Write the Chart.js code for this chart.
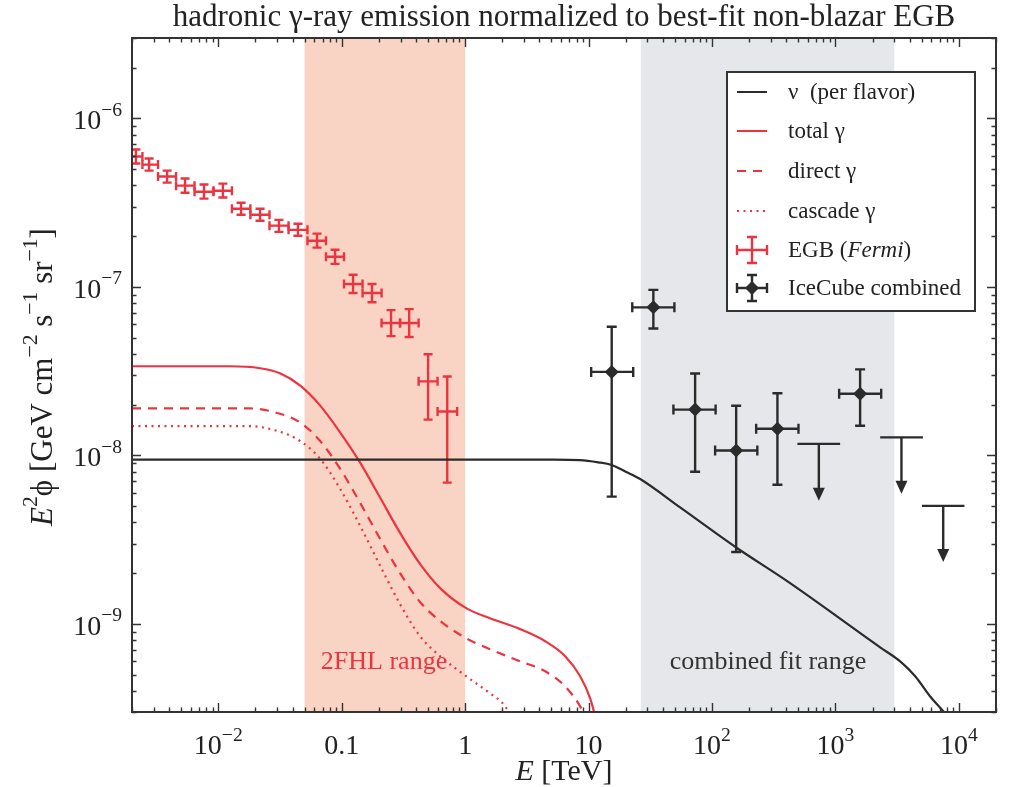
<!DOCTYPE html>
<html>
<head>
<meta charset="utf-8">
<script src="https://cdn.jsdelivr.net/npm/chart.js@4"></script>
<style>
  html, body { margin: 0; background: #fff; }
</style>
</head>
<body>
<canvas id="grafica" width="1011" height="787"></canvas>
<script>
// energia en TeV, flujo E^2 phi en GeV cm^-2 s^-1 sr^-1

const rangoX = [2e-3, 2e4];
const rangoY = [3e-10, 3e-6];

// bandas sombreadas
const rango2FHL = [0.05, 1];
const rangoAjuste = [26.5, 3000];

// neutrinos (por sabor)
const nuE = [2e-3, 0.1, 1, 5, 8.5, 12, 15.4, 20, 26.2, 55.2, 157, 404, 2305, 3350, 4430, 5860, 7750, 9330];
const nuV = [9.45e-9, 9.45e-9, 9.45e-9, 9.44e-9, 9.38e-9, 9.1e-9, 8.77e-9, 8.0e-9, 7.24e-9, 4.91e-9, 2.84e-9, 1.8e-9, 7.26e-10, 5.99e-10, 4.89e-10, 3.71e-10, 2.94e-10, 2.46e-10];

// gamma total
const totalE = [2e-3, 0.01245, 0.0218, 0.0316, 0.0459, 0.0667, 0.097, 0.141, 0.205, 0.297, 0.431, 0.627, 1.02, 1.59, 2.79, 4.45, 6.46, 8.55, 10.3, 11.9];
const totalV = [3.38e-8, 3.38e-8, 3.29e-8, 3.07e-8, 2.6e-8, 1.98e-8, 1.37e-8, 9.06e-9, 5.61e-9, 3.47e-9, 2.27e-9, 1.63e-9, 1.24e-9, 1.08e-9, 9.31e-10, 7.89e-10, 6.43e-10, 4.89e-10, 3.61e-10, 2.46e-10];

// gamma directo
const directoE = [2e-3, 0.0181, 0.0288, 0.0459, 0.0667, 0.097, 0.141, 0.205, 0.297, 0.431, 0.627, 1.02, 1.59, 2.79, 4.45, 6.46, 8.55, 10.3];
const directoV = [1.9e-8, 1.9e-8, 1.8e-8, 1.57e-8, 1.22e-8, 8.34e-9, 5.23e-9, 3.19e-9, 2.0e-9, 1.35e-9, 1.04e-9, 8.22e-10, 7.07e-10, 6.0e-10, 5.23e-10, 4.26e-10, 3.24e-10, 2.46e-10];

// gamma de cascada
const cascadaE = [2e-3, 0.0181, 0.0288, 0.0459, 0.0667, 0.097, 0.141, 0.205, 0.297, 0.431, 0.627, 1.02, 1.59, 2.11, 2.54];
const cascadaV = [1.49e-8, 1.49e-8, 1.41e-8, 1.22e-8, 9.57e-9, 6.34e-9, 3.82e-9, 2.21e-9, 1.31e-9, 8.45e-10, 6.43e-10, 4.89e-10, 3.87e-10, 3.24e-10, 2.46e-10];

// EGB de Fermi
const egbE = [2.15e-3, 2.75e-3, 3.85e-3, 5.38e-3, 7.66e-3, 0.0109, 0.0153, 0.0218, 0.031, 0.0442, 0.0631, 0.0883, 0.1236, 0.176, 0.251, 0.352, 0.501, 0.716];
const egbEmin = [1.82e-3, 2.43e-3, 3.25e-3, 4.55e-3, 6.42e-3, 9.15e-3, 0.0129, 0.0182, 0.026, 0.0371, 0.0528, 0.0746, 0.1044, 0.1476, 0.2103, 0.297, 0.42, 0.598];
const egbEmax = [2.43e-3, 3.25e-3, 4.55e-3, 6.42e-3, 9.15e-3, 0.0129, 0.0182, 0.026, 0.0371, 0.0528, 0.0746, 0.1044, 0.1476, 0.2103, 0.297, 0.42, 0.598, 0.861];
const egbV = [5.94e-7, 5.32e-7, 4.52e-7, 3.99e-7, 3.67e-7, 3.72e-7, 2.91e-7, 2.68e-7, 2.31e-7, 2.18e-7, 1.88e-7, 1.51e-7, 1.04e-7, 9.2e-8, 6.1e-8, 6.1e-8, 2.75e-8, 1.82e-8];
const egbVmin = [5.4e-7, 4.9e-7, 4.16e-7, 3.62e-7, 3.34e-7, 3.39e-7, 2.68e-7, 2.47e-7, 2.12e-7, 2.01e-7, 1.71e-7, 1.37e-7, 9.2e-8, 8.1e-8, 5.1e-8, 5.04e-8, 1.63e-8, 6.89e-9];
const egbVmax = [6.54e-7, 5.78e-7, 4.9e-7, 4.4e-7, 4.05e-7, 4.1e-7, 3.16e-7, 2.91e-7, 2.5e-7, 2.37e-7, 2.07e-7, 1.66e-7, 1.18e-7, 1.04e-7, 7.28e-8, 7.38e-8, 3.98e-8, 2.94e-8];

// IceCube combinado
const icE = [15.4, 33.5, 73.0, 157, 339, 1585];
const icEmin = [10.5, 22.6, 48.7, 106, 228, 1072];
const icEmax = [23.0, 49.6, 107, 233, 502, 2349];
const icV = [3.13e-8, 7.56e-8, 1.87e-8, 1.07e-8, 1.44e-8, 2.32e-8];
const icVmin = [5.69e-9, 5.66e-8, 8.0e-9, 2.67e-9, 6.7e-9, 1.5e-8];
const icVmax = [5.8e-8, 9.6e-8, 3.06e-8, 1.97e-8, 2.34e-8, 3.24e-8];

// limites superiores IceCube
const limE = [734, 3428, 7470];
const limEmin = [492, 2305, 5020];
const limEmax = [1092, 5115, 11100];
const limV = [1.17e-8, 1.28e-8, 5.02e-9];
const limPunta = [5.38e-9, 5.93e-9, 2.33e-9];

// marcas de los ejes
const xMarcas = [0.01, 0.1, 1, 10, 100, 1000, 10000];
const xEtiquetas = [["10", "−2"], ["0.1", ""], ["1", ""], ["10", ""], ["10", "2"], ["10", "3"], ["10", "4"]];
const yMarcas = [1e-9, 1e-8, 1e-7, 1e-6];
const yEtiquetas = [["10", "−9"], ["10", "−8"], ["10", "−7"], ["10", "−6"]];

const ROJO = "#ec3440";
const NEGRO = "#2b2b2b";
const EJE = "#333333";
const TEXTO = "#222222";
const SERIF = "'Liberation Serif', 'DejaVu Serif', serif";

function puntos(xs, ys) {
  return xs.map((x, i) => ({ x: x, y: ys[i] }));
}

// texto con exponentes y cursivas
function textoRico(ctx, partes, x, y, tam, alinear) {
  const medir = (p) => {
    const t = p.sup ? tam * 0.7 : tam;
    ctx.font = (p.it ? "italic " : "") + t + "px " + SERIF;
    return ctx.measureText(p.t).width;
  };
  let ancho = 0;
  partes.forEach(p => ancho += medir(p));
  let cx = alinear === "center" ? x - ancho / 2 : alinear === "right" ? x - ancho : x;
  ctx.textAlign = "left";
  ctx.textBaseline = "alphabetic";
  partes.forEach(p => {
    const w = medir(p);
    ctx.fillText(p.t, cx, p.sup ? y - tam * 0.48 : y);
    cx += w;
  });
}

function marcasLog(min, max) {
  const lista = [];
  for (let d = Math.floor(Math.log10(min)); d <= Math.ceil(Math.log10(max)); d++) {
    for (let m = 1; m <= 9; m++) {
      const v = m * Math.pow(10, d);
      if (v >= min * 0.999 && v <= max * 1.001) lista.push({ v: v, mayor: m === 1 });
    }
  }
  return lista;
}

const fondoPlugin = {
  id: "fondo",
  beforeDatasetsDraw(chart) {
    const { ctx, chartArea: a, scales: { x, y } } = chart;
    ctx.save();
    ctx.fillStyle = "#f9d4c4";
    let x0 = x.getPixelForValue(rango2FHL[0]), x1 = x.getPixelForValue(rango2FHL[1]);
    ctx.fillRect(x0, a.top, x1 - x0, a.bottom - a.top);
    ctx.fillStyle = "#e6e7ea";
    x0 = x.getPixelForValue(rangoAjuste[0]);
    x1 = x.getPixelForValue(rangoAjuste[1]);
    ctx.fillRect(x0, a.top, x1 - x0, a.bottom - a.top);

    ctx.beginPath();
    ctx.rect(a.left, a.top, a.right - a.left, a.bottom - a.top);
    ctx.clip();

    const barras = (E, Emin, Emax, V, Vmin, Vmax, color, cap) => {
      ctx.strokeStyle = color;
      ctx.lineWidth = 2.4;
      for (let i = 0; i < E.length; i++) {
        const px = x.getPixelForValue(E[i]), py = y.getPixelForValue(V[i]);
        const xa = x.getPixelForValue(Emin[i]), xb = x.getPixelForValue(Emax[i]);
        const ya = y.getPixelForValue(Vmax[i]), yb = y.getPixelForValue(Vmin[i]);
        ctx.beginPath();
        ctx.moveTo(xa, py); ctx.lineTo(xb, py);
        ctx.moveTo(px, ya); ctx.lineTo(px, yb);
        ctx.moveTo(xa, py - cap); ctx.lineTo(xa, py + cap);
        ctx.moveTo(xb, py - cap); ctx.lineTo(xb, py + cap);
        ctx.moveTo(px - cap, ya); ctx.lineTo(px + cap, ya);
        ctx.moveTo(px - cap, yb); ctx.lineTo(px + cap, yb);
        ctx.stroke();
      }
    };
    barras(egbE, egbEmin, egbEmax, egbV, egbVmin, egbVmax, ROJO, 4.5);
    barras(icE, icEmin, icEmax, icV, icVmin, icVmax, NEGRO, 5);

    // limites superiores con flecha
    ctx.strokeStyle = NEGRO;
    ctx.fillStyle = NEGRO;
    ctx.lineWidth = 2.4;
    for (let i = 0; i < limE.length; i++) {
      const px = x.getPixelForValue(limE[i]), py = y.getPixelForValue(limV[i]);
      const xa = x.getPixelForValue(limEmin[i]), xb = x.getPixelForValue(limEmax[i]);
      const pt = y.getPixelForValue(limPunta[i]);
      ctx.beginPath();
      ctx.moveTo(xa, py); ctx.lineTo(xb, py);
      ctx.moveTo(px, py); ctx.lineTo(px, pt - 10);
      ctx.stroke();
      ctx.beginPath();
      ctx.moveTo(px - 6, pt - 13);
      ctx.lineTo(px + 6, pt - 13);
      ctx.lineTo(px, pt);
      ctx.closePath();
      ctx.fill();
    }
    ctx.restore();
  }
};

const marcoPlugin = {
  id: "marco",
  afterDraw(chart) {
    const { ctx, chartArea: a, scales: { x, y } } = chart;
    ctx.save();
    ctx.strokeStyle = EJE;
    ctx.lineWidth = 1.4;
    ctx.beginPath();
    marcasLog(rangoX[0], rangoX[1]).forEach(m => {
      const px = Math.round(x.getPixelForValue(m.v)) + 0.5;
      const l = m.mayor ? 9 : 4.5;
      ctx.moveTo(px, a.bottom); ctx.lineTo(px, a.bottom - l);
      ctx.moveTo(px, a.top); ctx.lineTo(px, a.top + l);
    });
    marcasLog(rangoY[0], rangoY[1]).forEach(m => {
      const py = Math.round(y.getPixelForValue(m.v)) + 0.5;
      const l = m.mayor ? 9 : 4.5;
      ctx.moveTo(a.left, py); ctx.lineTo(a.left + l, py);
      ctx.moveTo(a.right, py); ctx.lineTo(a.right - l, py);
    });
    ctx.stroke();

    ctx.lineWidth = 2;
    ctx.strokeRect(a.left, a.top, a.right - a.left, a.bottom - a.top);

    // etiquetas de las marcas
    ctx.fillStyle = TEXTO;
    xMarcas.forEach((v, i) => {
      const px = x.getPixelForValue(v);
      const [base, exp] = xEtiquetas[i];
      const partes = [{ t: base }];
      if (exp) partes.push({ t: exp, sup: true });
      textoRico(ctx, partes, px, a.bottom + 42, 28, "center");
    });
    yMarcas.forEach((v, i) => {
      const py = y.getPixelForValue(v);
      const [base, exp] = yEtiquetas[i];
      textoRico(ctx, [{ t: base }, { t: exp, sup: true }], a.left - 10, py + 11, 28, "right");
    });

    // titulos
    textoRico(ctx, [{ t: "hadronic γ-ray emission normalized to best-fit non-blazar EGB" }], (a.left + a.right) / 2, 26, 31, "center");
    textoRico(ctx, [{ t: "E", it: true }, { t: " [TeV]" }], (a.left + a.right) / 2, 780, 30, "center");
    ctx.save();
    ctx.translate(52, (a.top + a.bottom) / 2 + 2);
    ctx.rotate(-Math.PI / 2);
    textoRico(ctx, [
      { t: "E", it: true }, { t: "2", sup: true }, { t: "ϕ [GeV cm" }, { t: "−2", sup: true },
      { t: " s" }, { t: "−1", sup: true }, { t: " sr" }, { t: "−1", sup: true }, { t: "]" }
    ], 0, 0, 31, "center");
    ctx.restore();

    // textos de las bandas
    ctx.fillStyle = ROJO;
    textoRico(ctx, [{ t: "2FHL range" }], 384, 669, 26, "center");
    ctx.fillStyle = EJE;
    textoRico(ctx, [{ t: "combined fit range" }], 768, 669, 26, "center");

    // leyenda
    const lx = 727, ly = 72, lw = 248, lh = 239;
    ctx.fillStyle = "#fff";
    ctx.fillRect(lx, ly, lw, lh);
    ctx.strokeStyle = EJE;
    ctx.lineWidth = 2;
    ctx.strokeRect(lx, ly, lw, lh);
    const filas = [92, 131, 171, 211, 250, 288];
    const s0 = 737, s1 = 767, tx = 788;
    const linea = (yy, color, dash) => {
      ctx.strokeStyle = color;
      ctx.lineWidth = 2;
      ctx.setLineDash(dash);
      ctx.beginPath(); ctx.moveTo(s0, yy); ctx.lineTo(s1, yy); ctx.stroke();
      ctx.setLineDash([]);
    };
    linea(filas[0], NEGRO, []);
    linea(filas[1], ROJO, []);
    linea(filas[2], ROJO, [9, 7]);
    linea(filas[3], ROJO, [2, 4.5]);
    const cruz = (yy, color, diamante) => {
      const cx = (s0 + s1) / 2;
      ctx.strokeStyle = color;
      ctx.lineWidth = 2.4;
      ctx.beginPath();
      ctx.moveTo(s0, yy); ctx.lineTo(s1, yy);
      ctx.moveTo(cx, yy - 13); ctx.lineTo(cx, yy + 13);
      ctx.moveTo(s0, yy - 5); ctx.lineTo(s0, yy + 5);
      ctx.moveTo(s1, yy - 5); ctx.lineTo(s1, yy + 5);
      ctx.moveTo(cx - 5, yy - 13); ctx.lineTo(cx + 5, yy - 13);
      ctx.moveTo(cx - 5, yy + 13); ctx.lineTo(cx + 5, yy + 13);
      ctx.stroke();
      if (diamante) {
        ctx.fillStyle = color;
        ctx.beginPath();
        ctx.moveTo(cx, yy - 7); ctx.lineTo(cx + 7, yy); ctx.lineTo(cx, yy + 7); ctx.lineTo(cx - 7, yy);
        ctx.closePath(); ctx.fill();
      }
    };
    cruz(filas[4], ROJO, false);
    cruz(filas[5], NEGRO, true);
    ctx.fillStyle = TEXTO;
    const ft = 23;
    textoRico(ctx, [{ t: "ν  (per flavor)" }], tx, filas[0] + 7, ft, "left");
    textoRico(ctx, [{ t: "total γ" }], tx, filas[1] + 7, ft, "left");
    textoRico(ctx, [{ t: "direct γ" }], tx, filas[2] + 7, ft, "left");
    textoRico(ctx, [{ t: "cascade γ" }], tx, filas[3] + 7, ft, "left");
    textoRico(ctx, [{ t: "EGB (" }, { t: "Fermi", it: true }, { t: ")" }], tx, filas[4] + 7, ft, "left");
    textoRico(ctx, [{ t: "IceCube combined" }], tx, filas[5] + 7, ft, "left");
    ctx.restore();
  }
};

const curva = (datos, color, dash) => ({
  data: datos,
  showLine: true,
  borderColor: color,
  borderWidth: 2.2,
  borderDash: dash,
  pointRadius: 0,
  cubicInterpolationMode: "monotone",
  fill: false
});

new Chart(document.getElementById("grafica").getContext("2d"), {
  type: "scatter",
  data: {
    datasets: [
      curva(puntos(nuE, nuV), NEGRO, []),
      curva(puntos(totalE, totalV), ROJO, []),
      curva(puntos(directoE, directoV), ROJO, [9, 7]),
      curva(puntos(cascadaE, cascadaV), ROJO, [2, 4.5]),
      {
        data: puntos(egbE, egbV),
        pointRadius: 0,
        borderColor: ROJO,
        backgroundColor: ROJO
      },
      {
        data: puntos(icE, icV),
        pointStyle: "rectRot",
        pointRadius: 7,
        borderWidth: 0,
        backgroundColor: NEGRO
      }
    ]
  },
  options: {
    responsive: false,
    animation: false,
    layout: { padding: { left: 132, right: 15, top: 38, bottom: 75 } },
    plugins: { legend: { display: false }, tooltip: { enabled: false } },
    scales: {
      x: { type: "logarithmic", min: rangoX[0], max: rangoX[1], display: false },
      y: { type: "logarithmic", min: rangoY[0], max: rangoY[1], display: false }
    }
  },
  plugins: [fondoPlugin, marcoPlugin]
});
</script>
</body>
</html>
